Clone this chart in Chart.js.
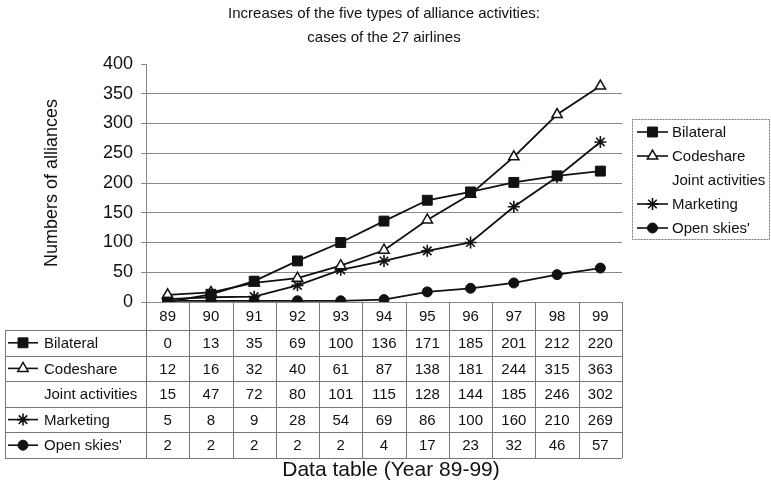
<!DOCTYPE html>
<html>
<head>
<meta charset="utf-8">
<script src="https://cdn.jsdelivr.net/npm/chart.js@4.4.1/dist/chart.umd.min.js"></script>
<style>
  html, body { margin: 0; padding: 0; background: #fff; }
</style>
</head>
<body>
<canvas id="chart" width="771" height="482"></canvas>
<script>
// Dữ liệu đọc từ bảng
const years = ['89', '90', '91', '92', '93', '94', '95', '96', '97', '98', '99'];
const bilateral = [0, 13, 35, 69, 100, 136, 171, 185, 201, 212, 220];
const codeshare = [12, 16, 32, 40, 61, 87, 138, 181, 244, 315, 363];
const jointActivities = [15, 47, 72, 80, 101, 115, 128, 144, 185, 246, 302];
const marketing = [5, 8, 9, 28, 54, 69, 86, 100, 160, 210, 269];
const openSkies = [2, 2, 2, 2, 2, 4, 17, 23, 32, 46, 57];
const yTicks = [0, 50, 100, 150, 200, 250, 300, 350, 400];
const titleLines = ['Increases of the five types of alliance activities:', 'cases of the 27 airlines'];

const FONT = "'Liberation Sans', Arial, sans-serif";
const INK = '#111';
const GRID = '#888';

const series = [
  { label: 'Bilateral', data: bilateral, style: 'rect', r: 7, fill: INK, bw: 1 },
  { label: 'Codeshare', data: codeshare, style: 'triangle', r: 6, fill: '#fff', bw: 1.5 },
  { label: 'Joint activities', data: jointActivities, style: false, r: 0, fill: INK, bw: 0, hidden: true },
  { label: 'Marketing', data: marketing, style: 'star', r: 6, fill: INK, bw: 1.6 },
  { label: "Open skies'", data: openSkies, style: 'circle', r: 5, fill: INK, bw: 1 }
];

function drawMarker(ctx, s, x, y) {
  if (!s.style) return;
  ctx.save();
  ctx.fillStyle = s.fill;
  ctx.strokeStyle = INK;
  ctx.lineWidth = s.bw;
  Chart.helpers.drawPoint(ctx, { pointStyle: s.style, radius: s.r, rotation: 0, borderWidth: s.bw }, x, y);
  ctx.restore();
}

function drawSymbol(ctx, s, x0, x1, y) {
  if (!s.style) return;
  ctx.save();
  ctx.strokeStyle = INK;
  ctx.lineWidth = 1.6;
  ctx.beginPath();
  ctx.moveTo(x0, y);
  ctx.lineTo(x1, y);
  ctx.stroke();
  ctx.restore();
  drawMarker(ctx, s, (x0 + x1) / 2, y);
}

// Vẽ tiêu đề, bảng số liệu và chú thích
const tablePlugin = {
  id: 'tablePlugin',
  afterDraw(chart) {
    const ctx = chart.ctx;
    const xs = chart.scales.x;
    const area = chart.chartArea;
    const colW = xs.getPixelForValue(1) - xs.getPixelForValue(0);
    const tblLeft = 5;
    const headTop = area.bottom;
    const rowTop = 330;
    const rowH = 25.6;
    const bottom = rowTop + rowH * series.length;

    ctx.save();
    ctx.fillStyle = INK;
    ctx.textAlign = 'center';
    ctx.textBaseline = 'middle';
    ctx.font = '15px ' + FONT;
    titleLines.forEach((t, i) => ctx.fillText(t, 384, 14 + i * 24));

    ctx.strokeStyle = '#777';
    ctx.lineWidth = 1;
    ctx.beginPath();
    for (let i = 0; i <= series.length; i++) {
      const y = Math.round(rowTop + i * rowH) + 0.5;
      ctx.moveTo(tblLeft, y);
      ctx.lineTo(area.right, y);
    }
    ctx.moveTo(tblLeft + 0.5, rowTop);
    ctx.lineTo(tblLeft + 0.5, bottom);
    ctx.moveTo(Math.round(area.left) + 0.5, headTop);
    ctx.lineTo(Math.round(area.left) + 0.5, bottom);
    years.forEach((yr, i) => {
      const x = Math.round(xs.getPixelForValue(i) + colW / 2) + 0.5;
      ctx.moveTo(x, headTop);
      ctx.lineTo(x, bottom);
    });
    ctx.stroke();

    ctx.font = '15px ' + FONT;
    years.forEach((yr, i) => {
      ctx.fillText(yr, xs.getPixelForValue(i), 317);
    });
    series.forEach((s, r) => {
      const cy = rowTop + rowH * r + rowH / 2 + 1;
      s.data.forEach((v, i) => {
        ctx.fillText(String(v), xs.getPixelForValue(i), cy);
      });
      ctx.textAlign = 'left';
      ctx.fillText(s.label, 44, cy);
      ctx.textAlign = 'center';
      drawSymbol(ctx, s, 8, 38, cy - 1);
    });

    ctx.font = '21px ' + FONT;
    ctx.fillText('Data table (Year 89-99)', 391, 470);

    // Chú thích bên phải
    ctx.setLineDash([2, 1]);
    ctx.strokeStyle = '#777';
    ctx.strokeRect(632.5, 119.5, 137, 120);
    ctx.setLineDash([]);
    ctx.font = '15px ' + FONT;
    ctx.textAlign = 'left';
    series.forEach((s, r) => {
      const cy = 132 + r * 24;
      drawSymbol(ctx, s, 637, 668, cy);
      ctx.fillStyle = INK;
      ctx.fillText(s.label, 672, cy + 1);
    });
    ctx.restore();
  }
};

const chart = new Chart(document.getElementById('chart'), {
  type: 'line',
  data: {
    labels: years,
    datasets: series.map(s => ({
      label: s.label,
      data: s.data,
      hidden: !!s.hidden,
      borderColor: INK,
      backgroundColor: s.fill,
      borderWidth: 1.8,
      pointStyle: s.style || 'circle',
      pointRadius: s.r,
      pointHoverRadius: s.r,
      pointBackgroundColor: s.fill,
      pointBorderColor: INK,
      pointBorderWidth: s.bw,
      tension: 0,
      fill: false
    }))
  },
  options: {
    responsive: false,
    animation: false,
    layout: { padding: { left: 0, right: 149, top: 64, bottom: 0 } },
    scales: {
      x: {
        offset: true,
        grid: { display: false },
        border: { display: false },
        ticks: { display: false },
        afterFit: s => { s.height = 180; }
      },
      y: {
        min: 0,
        max: 400,
        afterBuildTicks: s => { s.ticks = yTicks.map(v => ({ value: v })); },
        ticks: { color: INK, font: { size: 18, family: FONT }, padding: 8 },
        grid: {
          color: c => (c.tick && c.tick.value === 400 ? 'rgba(0,0,0,0)' : GRID),
          tickColor: GRID,
          tickLength: 5,
          lineWidth: 1
        },
        border: { color: GRID },
        title: {
          display: true,
          text: 'Numbers of alliances',
          color: INK,
          font: { size: 18, family: FONT },
          padding: { top: 41, bottom: 0 }
        },
        afterFit: s => { s.width = 146; }
      }
    },
    plugins: {
      legend: { display: false },
      tooltip: { enabled: false },
      title: { display: false }
    }
  },
  plugins: [tablePlugin]
});
</script>
</body>
</html>
